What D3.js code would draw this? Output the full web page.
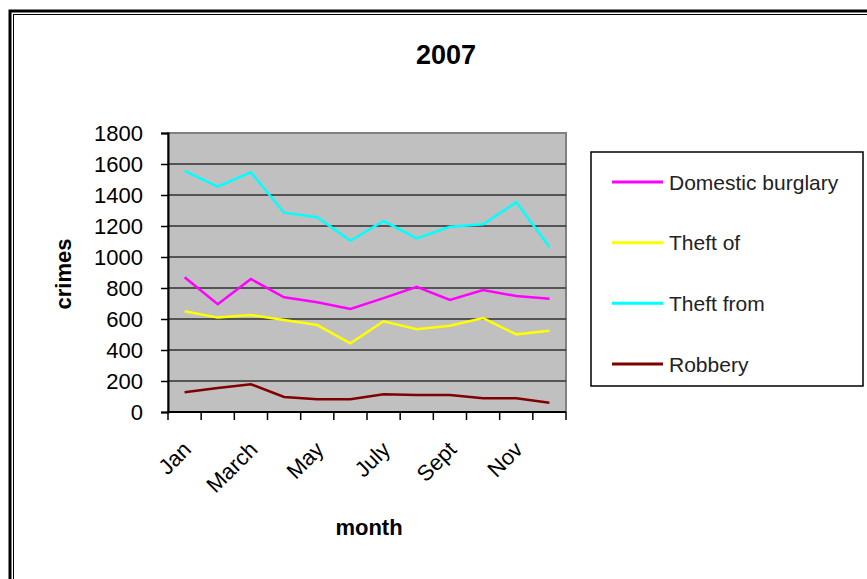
<!DOCTYPE html>
<html>
<head>
<meta charset="utf-8">
<script src="https://cdn.jsdelivr.net/npm/d3@7"></script>
<style>
  body { margin: 0; background: #fff; }
  text { font-family: "Liberation Sans", Arial, sans-serif; }
</style>
</head>
<body>
<svg width="867" height="579"></svg>
<script>
// chart data
var months = ['Jan', 'Feb', 'March', 'April', 'May', 'June', 'July', 'Aug', 'Sept', 'Oct', 'Nov', 'Dec'];
var shownMonths = ['Jan', 'March', 'May', 'July', 'Sept', 'Nov'];
var yTicks = [0, 200, 400, 600, 800, 1000, 1200, 1400, 1600, 1800];

var seriesNames = ['Domestic burglary', 'Theft of', 'Theft from', 'Robbery'];
var seriesColors = ['#ff00ff', '#ffff00', '#00ffff', '#800000'];

var domesticBurglary = [869, 695, 858, 740, 708, 665, 735, 808, 723, 787, 748, 731];
var theftOf = [650, 609, 626, 594, 561, 443, 585, 534, 557, 606, 501, 524];
var theftFrom = [1555, 1454, 1546, 1286, 1256, 1105, 1232, 1120, 1195, 1211, 1353, 1065];
var robbery = [127, 155, 179, 97, 82, 82, 114, 110, 110, 88, 88, 60];

var seriesValues = [domesticBurglary, theftOf, theftFrom, robbery];

var svg = d3.select('svg');

// outer frame (runs off the right and bottom of the picture)
svg.append('rect')
  .attr('x', 10).attr('y', 11)
  .attr('width', 900).attr('height', 600)
  .style('fill', 'none')
  .style('stroke', '#000')
  .style('stroke-width', 3);
svg.append('rect')
  .attr('x', 13.5).attr('y', 14.5)
  .attr('width', 900).attr('height', 600)
  .style('fill', 'none')
  .style('stroke', '#000')
  .style('stroke-width', 1);

var plot = { left: 168, right: 566, top: 133, bottom: 412 };

var x = d3.scaleBand()
  .domain(months)
  .range([plot.left, plot.right]);

var y = d3.scaleLinear()
  .domain([0, 1800])
  .range([plot.bottom, plot.top]);

// plot background
svg.append('rect')
  .attr('x', plot.left).attr('y', plot.top)
  .attr('width', plot.right - plot.left)
  .attr('height', plot.bottom - plot.top)
  .style('fill', '#c0c0c0')
  .style('stroke', '#808080')
  .style('stroke-width', 2);

// gridlines
svg.append('g')
  .selectAll('line')
  .data(yTicks.filter(function(d) { return d > 0 && d < 1800; }))
  .enter()
  .append('line')
  .attr('x1', plot.left).attr('x2', plot.right)
  .attr('y1', function(d) { return y(d); })
  .attr('y2', function(d) { return y(d); })
  .style('stroke', '#303030')
  .style('stroke-width', 1.5);

// y axis
var yAxis = svg.append('g')
  .attr('transform', 'translate(' + plot.left + ',0)')
  .call(d3.axisLeft(y).tickValues(yTicks).tickSize(7).tickPadding(18).tickFormat(d3.format('d')));
yAxis.select('.domain').style('stroke', '#000').style('stroke-width', 2);
yAxis.selectAll('.tick line').style('stroke', '#000').style('stroke-width', 1.5);
yAxis.selectAll('.tick text')
  .style('font-size', '22px')
  .style('font-family', '"Liberation Sans", Arial, sans-serif')
  .style('fill', '#000');

// x axis: ticks on band boundaries
var xAxis = svg.append('g')
  .attr('transform', 'translate(0,' + plot.bottom + ')');
xAxis.append('line')
  .attr('x1', plot.left).attr('x2', plot.right)
  .style('stroke', '#000').style('stroke-width', 2);
xAxis.selectAll('line.tk')
  .data(months.concat(['end']))
  .enter()
  .append('line')
  .attr('class', 'tk')
  .attr('x1', function(d, i) { return plot.left + i * x.bandwidth(); })
  .attr('x2', function(d, i) { return plot.left + i * x.bandwidth(); })
  .attr('y1', 0).attr('y2', 8)
  .style('stroke', '#000').style('stroke-width', 1.5);

xAxis.selectAll('text')
  .data(shownMonths)
  .enter()
  .append('text')
  .attr('transform', function(d) {
    return 'translate(' + (x(d) + x.bandwidth() / 2 - 3) + ',28) rotate(-45)';
  })
  .attr('text-anchor', 'end')
  .attr('dy', '0.7em')
  .style('font-size', '22px')
  .style('fill', '#000')
  .text(function(d) { return d; });

// lines
var line = d3.line()
  .x(function(d, i) { return x(months[i]) + x.bandwidth() / 2; })
  .y(function(d) { return y(d); });

svg.append('g')
  .selectAll('path')
  .data(seriesValues)
  .enter()
  .append('path')
  .attr('d', line)
  .style('fill', 'none')
  .style('stroke', function(d, i) { return seriesColors[i]; })
  .style('stroke-width', 2.5)
  .style('stroke-linejoin', 'miter');

// titles
svg.append('text')
  .attr('x', 446).attr('y', 64)
  .attr('text-anchor', 'middle')
  .style('font-size', '27px')
  .style('font-weight', 'bold')
  .text('2007');

svg.append('text')
  .attr('transform', 'translate(71,274) rotate(-90)')
  .attr('text-anchor', 'middle')
  .style('font-size', '22px')
  .style('font-weight', 'bold')
  .text('crimes');

svg.append('text')
  .attr('x', 369).attr('y', 535)
  .attr('text-anchor', 'middle')
  .style('font-size', '22px')
  .style('font-weight', 'bold')
  .text('month');

// legend
var legend = svg.append('g');
legend.append('rect')
  .attr('x', 591).attr('y', 152)
  .attr('width', 272).attr('height', 234)
  .style('fill', '#fff')
  .style('stroke', '#000')
  .style('stroke-width', 1.5);

var legendY = d3.scalePoint()
  .domain(seriesNames)
  .range([182, 364]);

var item = legend.selectAll('g.item')
  .data(seriesNames)
  .enter()
  .append('g')
  .attr('class', 'item')
  .attr('transform', function(d) { return 'translate(0,' + legendY(d) + ')'; });

item.append('line')
  .attr('x1', 612).attr('x2', 663)
  .style('stroke', function(d, i) { return seriesColors[i]; })
  .style('stroke-width', 3);

item.append('text')
  .attr('x', 669)
  .attr('dy', '0.36em')
  .style('font-size', '21px')
  .style('fill', '#222')
  .text(function(d) { return d; });
</script>
</body>
</html>
